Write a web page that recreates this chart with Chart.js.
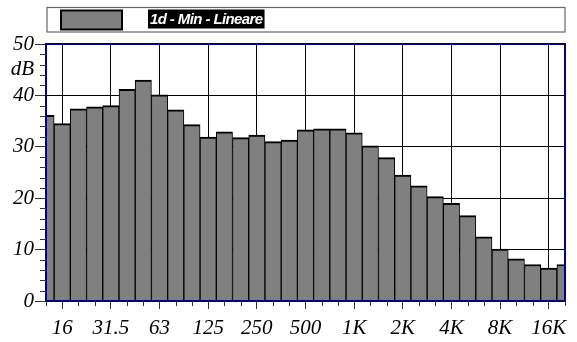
<!DOCTYPE html>
<html>
<head>
<meta charset="utf-8">
<script src="https://cdn.jsdelivr.net/npm/chart.js@4/dist/chart.umd.min.js"></script>
<style>
  html, body { margin: 0; padding: 0; background: #fff; }
  #wrap { width: 577px; height: 342px; position: relative; }
</style>
</head>
<body>
<div id="wrap"><canvas id="spectrum"></canvas></div>
<script>
// One-third-octave band centres (Hz)
const bandLabels = ['12.5','16','20','25','31.5','40','50','63','80','100','125','160','200','250','315','400','500','630','800','1K','1.25K','1.6K','2K','2.5K','3.15K','4K','5K','6.3K','8K','10K','12.5K','16K','20K'];
// Minimum level per band (dB, linear weighting)
const levels = [36.1, 34.5, 37.4, 37.8, 38.0, 41.2, 43.0, 40.1, 37.2, 34.3, 31.9, 32.9, 31.8, 32.3, 31.0, 31.3, 33.3, 33.5, 33.5, 32.7, 30.2, 27.9, 24.5, 22.4, 20.3, 19.0, 16.6, 12.5, 10.1, 8.2, 7.1, 6.4, 7.1];
// Bands that carry a frequency label on the x axis
const labelledBands = ['16','31.5','63','125','250','500','1K','2K','4K','8K','16K'];
// Level axis
const yMajorTicks = [0, 10, 20, 30, 40, 45, 50];
const yUnitTick = 45;
const yUnitText = 'dB';
const yMinorStep = 2;
const seriesName = '1d - Min - Lineare';

const NAVY = '#000080';
const BAR_GREY = '#808080';
const TICK_COL = '#333333';
const SERIF = '"Liberation Serif", "Times New Roman", serif';

Chart.defaults.font.family = SERIF;
Chart.defaults.font.style = 'italic';
Chart.defaults.font.size = 21;
Chart.defaults.color = '#000';

const bandIndex = name => bandLabels.indexOf(name);
const majorIdx = labelledBands.map(bandIndex);

// Short ticks for every unlabelled band and every 2 dB
const minorTicks = {
  id: 'minorTicks',
  afterDraw(chart) {
    const { ctx, chartArea: a, scales: { x, y } } = chart;
    ctx.save();
    ctx.strokeStyle = TICK_COL;
    ctx.lineWidth = 1;
    ctx.beginPath();
    bandLabels.forEach((b, i) => {
      if (majorIdx.includes(i)) return;
      const px = Math.round(x.getPixelForValue(i)) + 0.5;
      ctx.moveTo(px, a.bottom);
      ctx.lineTo(px, a.bottom + 5);
    });
    for (let v = y.min; v <= y.max; v += yMinorStep) {
      if (v % 10 === 0) continue;
      const py = Math.round(y.getPixelForValue(v)) + 0.5;
      ctx.moveTo(a.left - 6, py);
      ctx.lineTo(a.left, py);
    }
    ctx.stroke();
    ctx.restore();
  }
};

// Navy frame round the plot area
const plotFrame = {
  id: 'plotFrame',
  afterDatasetsDraw(chart) {
    const { ctx, chartArea: a } = chart;
    ctx.save();
    ctx.strokeStyle = NAVY;
    ctx.lineWidth = 2;
    ctx.strokeRect(a.left, a.top, a.right - a.left, a.bottom - a.top);
    ctx.restore();
  }
};

// Boxed legend above the plot: swatch + white-on-black series name
const boxLegend = {
  id: 'boxLegend',
  afterDraw(chart) {
    const { ctx, chartArea: a } = chart;
    const ds = chart.data.datasets[0];
    const top = 7.5, h = 24.5;
    const left = a.left + 1, right = a.right;
    ctx.save();
    ctx.strokeStyle = '#666';
    ctx.lineWidth = 1.2;
    ctx.strokeRect(left, top, right - left, h);
    // swatch
    ctx.fillStyle = ds.backgroundColor;
    ctx.fillRect(left + 14, top + 3, 61, 19);
    ctx.strokeStyle = '#000';
    ctx.lineWidth = 2;
    ctx.strokeRect(left + 14, top + 3, 61, 19);
    // name
    ctx.font = 'italic bold 15px "Liberation Sans", Arial, sans-serif';
    if ('letterSpacing' in ctx) ctx.letterSpacing = '-0.6px';
    const tw = ctx.measureText(ds.label).width;
    const tx = left + 101;
    ctx.fillStyle = '#000';
    ctx.fillRect(tx, top + 2, tw + 4, 19);
    ctx.fillStyle = '#fff';
    ctx.textBaseline = 'middle';
    ctx.fillText(ds.label, tx + 2, top + 12);
    ctx.restore();
  }
};

new Chart(document.getElementById('spectrum'), {
  type: 'bar',
  data: {
    datasets: [{
      label: seriesName,
      data: levels.map((v, i) => ({ x: i, y: v })),
      backgroundColor: BAR_GREY,
      borderColor: '#000',
      borderWidth: { top: 2, left: 1, right: 1, bottom: 0 },
      borderSkipped: false,
      barPercentage: 1,
      categoryPercentage: 1,
      clip: 0
    }]
  },
  options: {
    responsive: true,
    maintainAspectRatio: false,
    animation: false,
    events: [],
    layout: { padding: { top: 44, right: 12, left: 0, bottom: 0 } },
    plugins: { legend: { display: false }, tooltip: { enabled: false } },
    scales: {
      x: {
        type: 'linear',
        offset: false,
        min: 0,
        max: bandLabels.length - 1,
        afterBuildTicks: s => { s.ticks = majorIdx.map(v => ({ value: v })); },
        afterFit: s => { s.height = 41; },
        border: { display: false },
        grid: {
          offset: false,
          color: '#000',
          lineWidth: 1,
          tickColor: TICK_COL,
          tickLength: 8
        },
        ticks: {
          autoSkip: false,
          maxRotation: 0,
          padding: 7,
          color: '#000',
          font: { family: SERIF, style: 'italic', size: 21 },
          callback: v => bandLabels[v]
        }
      },
      y: {
        min: 0,
        max: 50,
        afterBuildTicks: s => { s.ticks = yMajorTicks.map(v => ({ value: v })); },
        afterFit: s => { s.width = 46; },
        border: { display: false },
        grid: {
          color: c => (c.tick && (c.tick.value === yUnitTick || c.tick.value === 0 || c.tick.value === 50)) ? 'rgba(0,0,0,0)' : '#000',
          tickColor: c => (c.tick && c.tick.value === yUnitTick) ? 'rgba(0,0,0,0)' : TICK_COL,
          lineWidth: 1,
          tickLength: 11
        },
        ticks: {
          padding: 1,
          color: '#000',
          font: { family: SERIF, style: 'italic', size: 21 },
          callback: v => v === yUnitTick ? yUnitText : String(v)
        }
      }
    }
  },
  plugins: [minorTicks, plotFrame, boxLegend]
});
</script>
</body>
</html>
